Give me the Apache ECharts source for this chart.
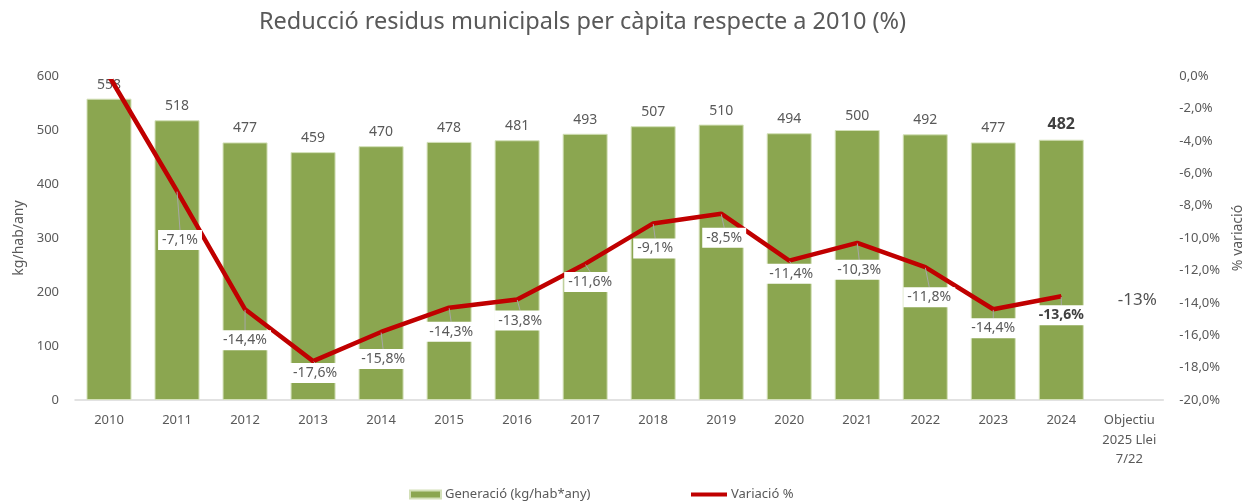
<!DOCTYPE html>
<html>
<head>
<meta charset="utf-8">
<script src="https://cdn.jsdelivr.net/npm/echarts@6/dist/echarts.min.js"></script>
<style>
  html, body { margin: 0; padding: 0; background: #fff; }
  #chart { width: 1253px; height: 501px; }
</style>
</head>
<body>
<div id="chart"></div>
<script>
var categories = ['2010', '2011', '2012', '2013', '2014', '2015', '2016', '2017', '2018', '2019',
  '2020', '2021', '2022', '2023', '2024', 'Objectiu\n2025 Llei\n7/22'];
var generacio = [558, 518, 477, 459, 470, 478, 481, 493, 507, 510, 494, 500, 492, 477, 482, '-'];
var variacio = [0, -7.1, -14.4, -17.6, -15.8, -14.3, -13.8, -11.6, -9.1, -8.5, -11.4, -10.3, -11.8, -14.4, -13.6, '-'];
var objectiu = ['-', '-', '-', '-', '-', '-', '-', '-', '-', '-', '-', '-', '-', '-', '-', -13];

// where each % label sits relative to its point (px)
var labelOffsets = [[0, 0], [3, 49], [0, 31], [2, 12], [2, 27], [2, 24], [3, 21], [5, 18],
  [2, 25], [3, 24], [2, 13], [2, 27], [4, 30], [0, 19], [0, 19]];

var FONT = 'Noto Sans';
var GREY = '#595959';
var lastIdx = 14;

function pct(v) {
  return v.toFixed(1).replace('.', ',') + '%';
}

var chartDom = document.getElementById('chart');
var myChart = echarts.init(chartDom);
var option;

option = {
  animation: false,
  textStyle: { fontFamily: FONT },
  title: {
    text: 'Reducció residus municipals per càpita respecte a 2010 (%)',
    left: 254,
    top: 5,
    textStyle: { fontFamily: FONT, fontSize: 23.5, fontWeight: 'normal', color: GREY }
  },
  legend: [
    {
      data: ['Generació (kg/hab*any)'],
      left: 404, top: 483,
      icon: 'rect', itemWidth: 31, itemHeight: 8, itemGap: 4,
      textStyle: { fontFamily: FONT, fontSize: 13, color: GREY, padding: [0, 0, 0, -1] }
    },
    {
      data: ['Variació %'],
      left: 686, top: 483,
      icon: 'rect', itemWidth: 36, itemHeight: 4,
      textStyle: { fontFamily: FONT, fontSize: 13, color: GREY, padding: [0, 0, 0, -1] }
    }
  ],
  grid: { left: 75, right: 82, top: 76, bottom: 101 },
  xAxis: {
    type: 'category',
    data: categories,
    axisLine: { lineStyle: { color: '#d9d9d9', width: 1.5 } },
    axisTick: { show: false },
    axisLabel: { color: GREY, fontSize: 13, margin: 11, lineHeight: 19.5, fontFamily: FONT, interval: 0 }
  },
  yAxis: [
    {
      type: 'value', min: 0, max: 600, interval: 100,
      name: 'kg/hab/any', nameLocation: 'middle', nameGap: 48, nameRotate: 90,
      nameTextStyle: { color: GREY, fontSize: 14, fontFamily: FONT },
      axisLine: { show: false }, axisTick: { show: false }, splitLine: { show: false },
      axisLabel: { color: GREY, fontSize: 13, margin: 16, fontFamily: FONT }
    },
    {
      type: 'value', min: -20, max: 0, interval: 2,
      name: '% variació', nameLocation: 'middle', nameGap: 62, nameRotate: 90,
      nameTextStyle: { color: GREY, fontSize: 14, fontFamily: FONT },
      axisLine: { show: false }, axisTick: { show: false }, splitLine: { show: false },
      axisLabel: { color: GREY, fontSize: 13, margin: 16, fontFamily: FONT, formatter: pct }
    }
  ],
  series: [
    {
      name: 'Generació (kg/hab*any)',
      type: 'bar',
      yAxisIndex: 0,
      barWidth: 45,
      data: generacio.map(function (v, i) {
        if (i !== lastIdx) return v;
        return { value: v, label: { fontWeight: 'bold', fontSize: 16, color: '#404040' } };
      }),
      itemStyle: { color: '#8BA650', borderColor: '#d3e0b8', borderWidth: 1 },
      label: { show: true, position: 'top', distance: 7, color: GREY, fontSize: 14, fontFamily: FONT },
      z: 2
    },
    {
      name: 'Variació %',
      type: 'line',
      yAxisIndex: 1,
      data: variacio.map(function (v, i) {
        if (i !== lastIdx) return v;
        return { value: v, label: { fontWeight: 'bold', color: '#404040' } };
      }),
      symbol: 'circle',
      symbolSize: 1,
      itemStyle: { color: '#C00000' },
      lineStyle: { color: '#C00000', width: 4.5 },
      label: {
        show: true,
        position: 'inside',
        color: GREY,
        fontSize: 14,
        fontFamily: FONT,
        backgroundColor: '#fff',
        padding: [3, 4, 3, 4],
        formatter: function (p) { return p.dataIndex === 0 ? '' : pct(p.value); }
      },
      labelLine: { show: true, lineStyle: { color: '#a6a6a6', width: 1 } },
      labelLayout: function (p) {
        var o = labelOffsets[p.dataIndex] || [0, 0];
        return { dx: o[0], dy: o[1] };
      },
      z: 3
    },
    {
      name: 'Objectiu',
      type: 'scatter',
      yAxisIndex: 1,
      data: objectiu,
      symbolSize: 1,
      itemStyle: { color: 'rgba(0,0,0,0)' },
      label: {
        show: true, position: 'inside', offset: [8, 14],
        color: '#262626', fontSize: 17, fontFamily: FONT,
        formatter: function (p) { return Math.round(p.value) + '%'; }
      },
      z: 4
    }
  ]
};

option && myChart.setOption(option);
</script>
</body>
</html>
